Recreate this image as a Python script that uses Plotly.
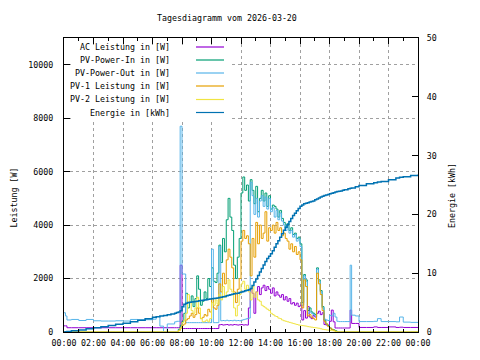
import plotly.graph_objects as go

# ---------------- data ----------------
t_hours = [0, 0.1, 0.2, 0.5, 1.0, 1.5, 2.0, 2.5, 3.0, 3.5, 4.0, 4.5, 5.0, 5.5, 6.0, 6.25, 6.5, 6.75, 7.0, 7.25,
           7.5, 7.625, 7.75, 7.875, 8.0, 8.125, 8.25, 8.375, 8.5, 8.625, 8.75, 8.875,
           9.0, 9.125, 9.25, 9.375, 9.5, 9.625, 9.75, 9.875,
           10.0, 10.125, 10.25, 10.375, 10.5, 10.625, 10.75, 10.875,
           11.0, 11.125, 11.25, 11.375, 11.5, 11.625, 11.75, 11.875,
           12.0, 12.125, 12.25, 12.375, 12.5, 12.625, 12.75, 12.875,
           13.0, 13.125, 13.25, 13.375, 13.5, 13.625, 13.75, 13.875,
           14.0, 14.125, 14.25, 14.375, 14.5, 14.625, 14.75, 14.875,
           15.0, 15.125, 15.25, 15.375, 15.5, 15.625, 15.75, 15.875,
           16.0, 16.125, 16.25, 16.375, 16.5, 16.625, 16.75, 16.875,
           17.0, 17.125, 17.25, 17.375, 17.5, 17.625, 17.75, 17.875,
           18.0, 18.125, 18.25, 18.375, 18.5, 18.625, 18.75, 18.875,
           19.0,
           19.25, 19.4, 19.5, 19.75, 20.0, 20.5, 21.0, 21.25, 21.5, 22.0, 22.5, 22.75, 23.0, 23.5, 24.0]

ac_leistung = [230, 230, 160, 160, 160, 160, 160, 160, 160, 160, 160, 160, 160, 160, 160, 160, 160, 160, 160, 160,
               160, 160, 160, 2500, 130, 130, 130, 130, 130, 130, 130, 130,
               130, 130, 130, 130, 130, 130, 130, 130,
               130, 130, 130, 130, 270, 280, 260, 270,
               280, 260, 270, 260, 280, 270, 260, 270,
               280, 260, 270, 260, 900, 1600, 1450, 700,
               1500, 1700, 1400, 1650, 1750, 1550, 1700, 1600,
               1450, 1650, 1350, 1500, 1380, 1300, 1400, 1200,
               1320, 1150, 1250, 1050, 1100, 1000, 1080, 950,
               1000, 450, 800, 520, 950, 560, 500, 620,
               560, 700, 780, 650, 720, 280, 260, 250,
               400, 820, 380, 150, 150, 150, 150, 150,
               150,
               150, 820, 320, 320, 170, 170, 190, 170, 170, 190, 170, 180, 170, 170, 170]

pv_power_in = [0] * 20 + [
               0, 0, 100, 250, 400, 700, 1450, 900, 1100, 1350, 950, 1250,
               2100, 1600, 1000, 1150, 1500, 1250, 2000, 1700,
               2400, 1900, 1850, 2200, 3250, 2600, 3500, 3000,
               4200, 5000, 4300, 3800, 2500, 2000, 2800, 3500,
               5200, 5800, 5300, 5500, 4900, 5700, 5300, 4800,
               5450, 4500, 5000, 5300, 4900, 5200, 4700, 5100,
               4600, 4750, 4700, 4600, 4300, 4550, 4250, 4100,
               3900, 4050, 3800, 3900, 3650, 3700, 3500, 3550,
               3300, 1100, 2150, 1950, 800, 900, 750, 700,
               650, 2400, 1950, 1550, 950, 450, 300, 250,
               150, 100, 80, 50, 0, 0, 0, 0,
               0] + [0] * 15

pv_power_out = [720, 600, 450, 470, 430, 470, 420, 410, 410, 420, 410, 470, 460, 460, 480, 580, 220, 0, 300, 300,
                380, 400, 400, 7700, 2170, 2170, 350, 350, 350, 350, 350, 350,
                350, 350, 350, 350, 350, 350, 350, 350,
                3100, 350, 350, 350, 3200, 420, 430, 420,
                440, 420, 430, 420, 440, 420, 430, 420,
                440, 460, 480, 500, 520, 5600, 5100, 4400,
                5000, 4300, 4900, 5100, 4700, 5050, 4600, 5000,
                4500, 4650, 4300, 4550, 4200, 4450, 4150, 4000,
                3800, 3950, 3700, 3800, 3550, 3650, 3400, 3500,
                3200, 1000, 2100, 1900, 700, 750, 700, 650,
                600, 2350, 1900, 1500, 900, 480, 450, 430,
                620, 600, 700, 560, 400, 390, 390, 390,
                390,
                390, 2500, 630, 600, 390, 390, 400, 500, 390, 390, 380, 560, 370, 360, 360]

pv1_leistung = [0] * 20 + [
                0, 0, 50, 150, 250, 300, 450, 500, 600, 700, 550, 650,
                900, 700, 500, 550, 650, 600, 850, 750,
                1250, 900, 850, 1000, 1800, 1500, 2200, 1800,
                2700, 3100, 2800, 2400, 1500, 1100, 1600, 2000,
                3400, 3800, 3500, 3600, 3300, 2100, 3500, 2800,
                4100, 3300, 4000, 3500, 3700, 4500, 3400, 3900,
                3800, 4000, 3700, 4100, 3800, 3900, 3600, 3700,
                3500, 3400, 3100, 3300, 3000, 3200, 2900, 3000,
                2700, 900, 1950, 1700, 600, 650, 550, 500,
                450, 2200, 1800, 1400, 800, 400, 300, 200,
                150, 100, 60, 20, 0, 0, 0, 0,
                0] + [0] * 15

pv2_leistung = [0] * 20 + [
                0, 0, 50, 150, 350, 450, 700, 1400, 1100, 800, 700, 900,
                1300, 900, 500, 380, 400, 450, 380, 500,
                1100, 1000, 1200, 1050, 1400, 1200, 1700, 1300,
                1500, 1950, 1600, 1500, 900, 600, 1000, 1400,
                1800, 1900, 1600, 1750, 1500, 1200, 1700, 1300,
                1500, 1200, 1150, 1000, 950, 900, 850, 800,
                700, 650, 600, 580, 520, 500, 450, 420,
                400, 380, 360, 340, 320, 300, 280, 260,
                250, 240, 230, 220, 200, 190, 180, 170,
                160, 150, 140, 120, 100, 90, 80, 70,
                60, 50, 40, 30, 0, 0, 0, 0,
                0] + [0] * 15

energie_kwh = [0, 0.05, 0.1, 0.2, 0.35, 0.55, 0.73, 0.9, 1.1, 1.3, 1.5, 1.75, 2.0, 2.25, 2.5, 2.6, 2.7, 2.8, 2.95, 3.05,
               3.2, 3.3, 3.4, 3.6, 4.3, 4.7, 4.9, 5.0, 5.05, 5.1, 5.15, 5.2,
               5.25, 5.3, 5.35, 5.4, 5.45, 5.5, 5.55, 5.6,
               5.65, 5.7, 5.75, 5.8, 5.85, 5.9, 6.0, 6.05,
               6.15, 6.25, 6.35, 6.4, 6.5, 6.55, 6.6, 6.7,
               6.8, 6.9, 7.0, 7.1, 7.2, 7.4, 7.9, 8.5,
               9.0, 9.6, 10.2, 10.8, 11.4, 12.0, 12.5, 12.9,
               13.3, 13.8, 14.4, 15.0, 15.5, 16.1, 16.7, 17.3,
               17.8, 18.3, 18.8, 19.3, 19.8, 20.2, 20.6, 21.0,
               21.4, 21.6, 21.8, 21.9, 22.0, 22.1, 22.2, 22.3,
               22.5, 22.6, 22.8, 22.95, 23.1, 23.2, 23.3, 23.4,
               23.5, 23.6, 23.7, 23.8, 23.9, 23.95, 24.0, 24.1,
               24.2,
               24.35, 24.45, 24.5, 24.7, 24.9, 25.2, 25.4, 25.5, 25.6, 25.9, 26.2, 26.3, 26.4, 26.6, 26.8]

series_names = ["AC Leistung in [W]", "PV-Power-In in [W]", "PV-Power-Out in [W]",
                "PV-1 Leistung in [W]", "PV-2 Leistung in [W]", "Energie in [kWh]"]
series_colors = ["#9400D3", "#009E73", "#56B4E9", "#E69F00", "#F0E442", "#0072B2"]

x_tick_vals = [0, 2, 4, 6, 8, 10, 12, 14, 16, 18, 20, 22, 24]
x_tick_text = ["00:00", "02:00", "04:00", "06:00", "08:00", "10:00", "12:00",
               "14:00", "16:00", "18:00", "20:00", "22:00", "00:00"]
y_tick_vals = [0, 2000, 4000, 6000, 8000, 10000]
y_tick_text = ["0", "2000", "4000", "6000", "8000", "10000"]
y2_tick_vals = [0, 10, 20, 30, 40, 50]

for arr in (ac_leistung, pv_power_in, pv_power_out, pv1_leistung, pv2_leistung, energie_kwh):
    assert len(arr) == len(t_hours), len(arr)

# ---------------- figure ----------------
FONT = "DejaVu Sans Mono"
FS = 8.3
OFF = 8                      # page offset of the figure (body margin)
W, H = 472, 352
L, R, T, B = 56, 62, 30, 28  # plot area = page x 64..418, y 38..332
pw, ph = W - L - R, H - T - B


def px_x(p):
    return (p - OFF - L) / pw


def px_y(p):
    return (H - B - (p - OFF)) / ph


fig = go.Figure()
power_series = [ac_leistung, pv_power_in, pv_power_out, pv1_leistung, pv2_leistung]
for name, vals, col in zip(series_names[:5], power_series, series_colors[:5]):
    fig.add_trace(go.Scatter(x=t_hours, y=vals, name=name, mode="lines",
                             line=dict(color=col, width=1, shape="hv"), yaxis="y"))
fig.add_trace(go.Scatter(x=t_hours, y=energie_kwh, name=series_names[5], mode="lines",
                         line=dict(color=series_colors[5], width=1.5, shape="hv"), yaxis="y2"))

grid = dict(showgrid=True, gridcolor="#a0a0a0", gridwidth=1, griddash="3px,3px")
tickfont = dict(family=FONT, size=FS, color="black")

fig.update_layout(
    width=W, height=H, margin=dict(l=L, r=R, t=T, b=B),
    paper_bgcolor="white", plot_bgcolor="white", showlegend=False,
    font=dict(family=FONT, size=FS, color="black"),
    xaxis=dict(range=[0, 24], tickvals=x_tick_vals, ticktext=x_tick_text, ticks="inside",
               ticklen=6, tickcolor="black", showline=True, linecolor="black", linewidth=1,
               mirror="ticks", zeroline=False, tickfont=tickfont, ticklabelstandoff=3,
               minor=dict(dtick=1, ticks="inside", ticklen=3, tickcolor="black", showgrid=False),
               **grid),
    yaxis=dict(range=[0, 11000], tickvals=y_tick_vals, ticktext=y_tick_text, ticks="inside",
               ticklen=6, tickcolor="black", showline=True, linecolor="black", linewidth=1,
               zeroline=False, tickfont=tickfont, ticklabelstandoff=8, **grid),
    yaxis2=dict(range=[0, 50], tickvals=y2_tick_vals, overlaying="y", side="right",
                ticks="inside", ticklen=6, tickcolor="black", showline=True,
                linecolor="black", linewidth=1, showgrid=False, zeroline=False,
                tickfont=tickfont, ticklabelstandoff=6),
)

# white box behind the key (hides the grid there, keeps border ticks visible)
fig.add_shape(type="rect", xref="paper", yref="paper", x0=px_x(71), x1=px_x(232),
              y0=px_y(121), y1=px_y(45), fillcolor="white", line=dict(width=0), layer="above")

# key
row_y = [47, 60, 73, 86, 99.5, 112.5]
for name, col, yy in zip(series_names, series_colors, row_y):
    fig.add_annotation(text=name, xref="paper", yref="paper", x=px_x(172), y=px_y(yy),
                       xanchor="right", yanchor="middle", showarrow=False,
                       font=dict(family=FONT, size=FS, color="black"))
    fig.add_shape(type="line", xref="paper", yref="paper", x0=px_x(196), x1=px_x(224),
                  y0=px_y(yy), y1=px_y(yy), line=dict(color=col, width=1.2), layer="above")

# title and axis titles
fig.add_annotation(text="Tagesdiagramm vom 2026-03-20", xref="paper", yref="paper",
                   x=px_x(227), y=px_y(18), xanchor="center", yanchor="middle", showarrow=False,
                   font=dict(family=FONT, size=FS, color="black"))
fig.add_annotation(text="Leistung [W]", xref="paper", yref="paper", x=px_x(13.5), y=px_y(198),
                   xanchor="center", yanchor="middle", showarrow=False, textangle=-90,
                   font=dict(family=FONT, size=FS, color="black"))
fig.add_annotation(text="Energie [kWh]", xref="paper", yref="paper", x=px_x(452), y=px_y(195),
                   xanchor="center", yanchor="middle", showarrow=False, textangle=-90,
                   font=dict(family=FONT, size=FS, color="black"))

fig.write_html("out.html", config={"displayModeBar": False})
